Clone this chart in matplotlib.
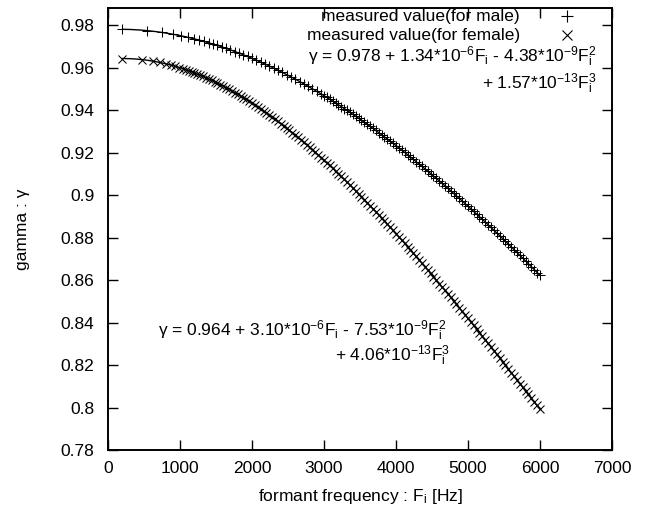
import numpy as np
import matplotlib
matplotlib.use('Agg')
import matplotlib.pyplot as plt

plt.rcParams['font.family'] = ['Liberation Sans', 'DejaVu Sans']
plt.rcParams['mathtext.fontset'] = 'custom'
plt.rcParams['mathtext.rm'] = 'Liberation Sans'
plt.rcParams['mathtext.it'] = 'Liberation Sans:italic'

# measured gamma for the male vocal tract model
male_freq = [200, 540, 750, 900, 1020, 1110, 1190, 1260, 1330,
             1400, 1460, 1520, 1580, 1640, 1700, 1760, 1820, 1880, 1940,
             2000, 2060, 2120, 2180, 2240, 2300, 2360, 2420, 2480, 2540,
             2600, 2660, 2720, 2780, 2840, 2900, 2960,
             3000, 3040, 3080, 3120, 3160, 3200, 3240, 3280, 3320, 3360,
             3400, 3440, 3480, 3520, 3560, 3600, 3640, 3680, 3720, 3760,
             3800, 3840, 3880, 3920, 3960, 4000, 4040, 4080, 4120, 4160,
             4200, 4240, 4280, 4320, 4360, 4400, 4440, 4480, 4520, 4560,
             4600, 4640, 4680, 4720, 4760, 4800, 4840, 4880, 4920, 4960,
             5000, 5040, 5080, 5120, 5160, 5200, 5240, 5280, 5320, 5360,
             5400, 5440, 5480, 5520, 5560, 5600, 5640, 5680, 5720, 5760,
             5800, 5840, 5880, 5920, 5960, 6000]
male_gamma = [0.9781, 0.9775, 0.9766, 0.9758, 0.9750, 0.9743, 0.9737, 0.9730, 0.9724,
              0.9717, 0.9711, 0.9705, 0.9698, 0.9691, 0.9684, 0.9676, 0.9669, 0.9661, 0.9653,
              0.9644, 0.9635, 0.9627, 0.9617, 0.9608, 0.9598, 0.9588, 0.9578, 0.9568, 0.9557,
              0.9546, 0.9535, 0.9524, 0.9512, 0.9501, 0.9489, 0.9477,
              0.9468, 0.9460, 0.9452, 0.9443, 0.9435, 0.9426, 0.9417, 0.9408, 0.9399, 0.9390,
              0.9381, 0.9372, 0.9362, 0.9353, 0.9343, 0.9334, 0.9324, 0.9314, 0.9305, 0.9295,
              0.9285, 0.9275, 0.9264, 0.9254, 0.9244, 0.9233, 0.9223, 0.9212, 0.9202, 0.9191,
              0.9180, 0.9169, 0.9158, 0.9147, 0.9136, 0.9125, 0.9114, 0.9102, 0.9091, 0.9079,
              0.9068, 0.9056, 0.9044, 0.9033, 0.9021, 0.9009, 0.8997, 0.8985, 0.8973, 0.8960,
              0.8948, 0.8936, 0.8924, 0.8911, 0.8899, 0.8886, 0.8873, 0.8861, 0.8848, 0.8835,
              0.8822, 0.8809, 0.8796, 0.8783, 0.8770, 0.8757, 0.8744, 0.8731, 0.8717, 0.8704,
              0.8691, 0.8677, 0.8664, 0.8650, 0.8636, 0.8623]

# measured gamma for the female vocal tract model
female_freq = [200, 470, 620, 720, 800, 870, 930, 985, 1035, 1080,
               1120, 1160, 1200, 1240, 1280, 1320, 1360, 1400, 1440, 1480,
               1520, 1560, 1600, 1640, 1680, 1720, 1760, 1800, 1840, 1880,
               1920, 1960, 2000, 2040, 2080, 2120, 2160, 2200, 2240, 2280,
               2320, 2360, 2400, 2440, 2480, 2520, 2560, 2600, 2640, 2680,
               2720, 2760, 2800, 2840, 2880, 2920, 2960, 3000, 3040, 3080,
               3120, 3160, 3200, 3240, 3280, 3320, 3360, 3400, 3440, 3480,
               3520, 3560, 3600, 3640, 3680, 3720, 3760, 3800, 3840, 3880,
               3920, 3960, 4000, 4040, 4080, 4120, 4160, 4200, 4240, 4280,
               4320, 4360, 4400, 4440, 4480, 4520, 4560, 4600, 4640, 4680,
               4720, 4760, 4800, 4840, 4880, 4920, 4960, 5000, 5040, 5080,
               5120, 5160, 5200, 5240, 5280, 5320, 5360, 5400, 5440, 5480,
               5520, 5560, 5600, 5640, 5680, 5720, 5760, 5800, 5840, 5880,
               5920, 5960, 6000]
female_gamma = [0.9643, 0.9638, 0.9631, 0.9625, 0.9619, 0.9613, 0.9607, 0.9601, 0.9596, 0.9591,
                0.9586, 0.9581, 0.9576, 0.9570, 0.9565, 0.9559, 0.9553, 0.9547, 0.9541, 0.9534,
                0.9527, 0.9521, 0.9513, 0.9506, 0.9499, 0.9491, 0.9483, 0.9476, 0.9467, 0.9459,
                0.9451, 0.9442, 0.9433, 0.9424, 0.9415, 0.9406, 0.9397, 0.9387, 0.9377, 0.9367,
                0.9357, 0.9347, 0.9337, 0.9326, 0.9316, 0.9305, 0.9294, 0.9283, 0.9272, 0.9260,
                0.9249, 0.9237, 0.9226, 0.9214, 0.9202, 0.9190, 0.9177, 0.9165, 0.9152, 0.9140,
                0.9127, 0.9114, 0.9101, 0.9088, 0.9075, 0.9062, 0.9048, 0.9035, 0.9021, 0.9007,
                0.8993, 0.8979, 0.8965, 0.8951, 0.8937, 0.8922, 0.8908, 0.8893, 0.8879, 0.8864,
                0.8849, 0.8834, 0.8819, 0.8804, 0.8789, 0.8773, 0.8758, 0.8743, 0.8727, 0.8712,
                0.8696, 0.8680, 0.8664, 0.8649, 0.8633, 0.8617, 0.8601, 0.8584, 0.8568, 0.8552,
                0.8536, 0.8519, 0.8503, 0.8486, 0.8470, 0.8453, 0.8437, 0.8420, 0.8403, 0.8387,
                0.8370, 0.8353, 0.8336, 0.8319, 0.8302, 0.8285, 0.8268, 0.8251, 0.8234, 0.8217,
                0.8200, 0.8182, 0.8165, 0.8148, 0.8131, 0.8113, 0.8096, 0.8079, 0.8062, 0.8044,
                0.8027, 0.8010, 0.7992]

# cubic fit coefficients (const, F, F^2, F^3), F in Hz
male_coef = [0.978, 1.34e-6, -4.38e-9, 1.57e-13]
female_coef = [0.964, 3.10e-6, -7.53e-9, 4.06e-13]

x_ticks = [0, 1000, 2000, 3000, 4000, 5000, 6000, 7000]
y_ticks = [0.78, 0.80, 0.82, 0.84, 0.86, 0.88, 0.90, 0.92, 0.94, 0.96, 0.98]
y_tick_labels = ['0.78', '0.8', '0.82', '0.84', '0.86', '0.88', '0.9',
                 '0.92', '0.94', '0.96', '0.98']

FS = 12.5

fig = plt.figure(figsize=(6.51, 5.15), dpi=100)
ax = fig.add_axes([0.166, 0.126, 0.774, 0.858])

f_line = np.linspace(200, 6000, 400)
ax.plot(f_line, np.polynomial.polynomial.polyval(f_line, male_coef), color='black', lw=1.0)
ax.plot(f_line, np.polynomial.polynomial.polyval(f_line, female_coef), color='black', lw=1.0)

ax.plot(male_freq, male_gamma, linestyle='none', marker='+', markersize=7,
        markeredgewidth=0.75, color='black')
ax.plot(female_freq, female_gamma, linestyle='none', marker='x', markersize=6,
        markeredgewidth=0.75, color='black')

ax.set_xlim(0, 7000)
ax.set_ylim(0.78, 0.988)
ax.set_xticks(x_ticks)
ax.set_yticks(y_ticks)
ax.set_yticklabels(y_tick_labels)
ax.tick_params(direction='in', length=7, width=1, top=True, right=True,
               labelsize=FS)
ax.tick_params(axis='y', pad=10)
ax.tick_params(axis='x', pad=8)
for sp in ax.spines.values():
    sp.set_linewidth(1.4)

ax.set_xlabel(r'formant frequency : F$_{\mathregular{i}}$ [Hz]', fontsize=FS, labelpad=8)
ax.set_ylabel('gamma : γ', fontsize=FS, labelpad=22)

# key, drawn by hand like gnuplot does
ax.text(0.817, 0.982, 'measured value(for male)', transform=ax.transAxes,
        ha='right', va='center', fontsize=FS)
ax.text(0.817, 0.939, 'measured value(for female)', transform=ax.transAxes,
        ha='right', va='center', fontsize=FS)
ax.plot([0.911], [0.982], transform=ax.transAxes, marker='+', markersize=8,
        markeredgewidth=0.8, color='black', clip_on=False)
ax.plot([0.911], [0.939], transform=ax.transAxes, marker='x', markersize=7,
        markeredgewidth=0.8, color='black', clip_on=False)

ax.text(0.970, 0.889,
        r'γ = 0.978 + 1.34*10$^{\mathregular{-6}}$F$_{\mathregular{i}}$'
        r' - 4.38*10$^{\mathregular{-9}}$F$_{\mathregular{i}}^{\mathregular{2}}$',
        transform=ax.transAxes, ha='right', va='center', fontsize=FS)
ax.text(0.970, 0.828,
        r'+ 1.57*10$^{\mathregular{-13}}$F$_{\mathregular{i}}^{\mathregular{3}}$',
        transform=ax.transAxes, ha='right', va='center', fontsize=FS)

ax.text(0.099, 0.271,
        r'γ = 0.964 + 3.10*10$^{\mathregular{-6}}$F$_{\mathregular{i}}$'
        r' - 7.53*10$^{\mathregular{-9}}$F$_{\mathregular{i}}^{\mathregular{2}}$',
        transform=ax.transAxes, ha='left', va='center', fontsize=FS)
ax.text(0.679, 0.213,
        r'+ 4.06*10$^{\mathregular{-13}}$F$_{\mathregular{i}}^{\mathregular{3}}$',
        transform=ax.transAxes, ha='right', va='center', fontsize=FS)

fig.savefig('out.png', dpi=100)
